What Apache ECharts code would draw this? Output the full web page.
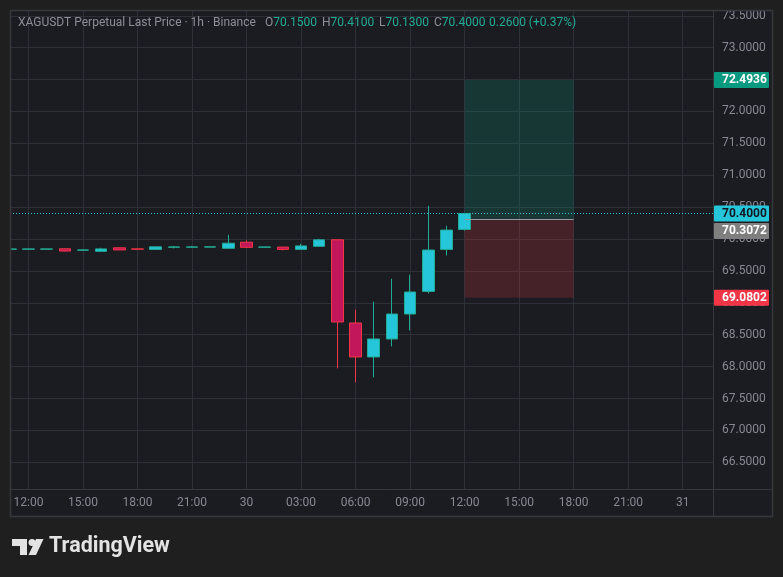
<!DOCTYPE html>
<html><head><meta charset="utf-8">
<script src="https://cdn.jsdelivr.net/npm/echarts@6/dist/echarts.min.js"></script>
<style>html,body{margin:0;padding:0;background:#1f1f1f;}#c{width:783px;height:577px;}</style>
</head><body><div id="c"></div>
<script>
// hours relative to 29th 12:00
const hours  = [-1,0,1,2,3,4,5,6,7,8,9,10,11,12,13,14,15,16,17,18,19,20,21,22,23,24];
const opens  = [69.840,69.841,69.842,69.848,69.826,69.808,69.863,69.846,69.838,69.872,69.873,69.874,69.855,69.951,69.872,69.874,69.838,69.886,69.989,68.684,68.152,68.434,68.825,69.179,69.837,70.150];
const closes = [69.845,69.845,69.845,69.812,69.830,69.846,69.830,69.842,69.878,69.877,69.877,69.878,69.935,69.870,69.876,69.838,69.893,69.988,68.700,68.152,68.434,68.825,69.170,69.828,70.141,70.400];
const lows   = [69.838,69.838,69.840,69.808,69.825,69.806,69.828,69.840,69.837,69.853,69.872,69.872,69.853,69.868,69.870,69.821,69.836,69.884,67.973,67.754,67.832,68.318,68.568,69.148,69.743,70.130];
const highs  = [69.848,69.848,69.847,69.850,69.843,69.864,69.866,69.848,69.880,69.893,69.893,69.880,70.068,69.980,69.878,69.876,69.926,70.005,69.992,68.893,69.018,69.378,69.441,70.522,70.208,70.410];

const xTickHours  = [0,3,6,9,12,15,18,21,24,27,30,33,36];
const xTickLabels = ['12:00','15:00','18:00','21:00','30','03:00','06:00','09:00','12:00','15:00','18:00','21:00','31'];
const yTicks = [66.5,67.0,67.5,68.0,68.5,69.0,69.5,70.0,70.5,71.0,71.5,72.0,72.5,73.0,73.5];

const lastPrice = 70.40;
const targetPrice = 72.4936;
const entryPrice = 70.3072;
const stopPrice = 69.0802;
const positionHours = [24, 30];

const headerTitle = 'XAGUSDT Perpetual Last Price · 1h · Binance';
const headerO = '70.1500', headerH = '70.4100', headerL = '70.1300', headerC = '70.4000';
const headerChange = '0.2600 (+0.37%)';

const FONT = 'Roboto, sans-serif';
const GRID = '#2e3039';
const FRAME = '#36383e';
const AXTXT = '#868993';
const UP = '#22ab94', DOWN = '#f23645';

const candleData = hours.map((h,i)=>[h, opens[i], closes[i], lows[i], highs[i]]);

const chart = echarts.init(document.getElementById('c'), null, {renderer:'canvas'});
const hdr = (x, k, v) => ({type:'text', z:60, x:x, y:23, style:{rich:{a:{fill:'#8c8f98', font:'12px '+FONT}, b:{fill:UP, font:'12px '+FONT}}, text:'{a|'+k+'}{b|'+v+'}', verticalAlign:'middle'}});
const opt = {
  backgroundColor: '#1b1c21',
  animation: false,
  grid: {left:10, top:10, right:70, bottom:87.5, containLabel:false},
  xAxis: {
    type:'value', min:-1.018, max:37.67,
    axisLine:{show:false}, axisTick:{show:false, customValues:xTickHours},
    axisLabel:{customValues:xTickHours, color:AXTXT, fontFamily:FONT, fontSize:12, margin:7,
      formatter:(v)=>{const k=xTickHours.indexOf(Math.round(v)); return k>=0?xTickLabels[k]:'';}},
    splitLine:{show:true, lineStyle:{color:GRID, width:1}}
  },
  yAxis: {
    type:'value', position:'right', min:66.074, max:73.591, scale:true,
    axisLine:{show:false}, axisTick:{show:false, customValues:yTicks},
    axisLabel:{customValues:yTicks, color:AXTXT, fontFamily:FONT, fontSize:12, margin:9,
      formatter:(v)=>v.toFixed(4)},
    splitLine:{show:true, lineStyle:{color:GRID, width:1}}
  },
  series: [
    {
      type:'line', data:[], silent:true,
      markArea:{silent:true, itemStyle:{color:'rgba(8,153,129,0.22)'}, data:[
        [{coord:[positionHours[0], entryPrice], itemStyle:{color:'rgba(8,153,129,0.22)'}},{coord:[positionHours[1], targetPrice]}],
        [{coord:[positionHours[0], stopPrice], itemStyle:{color:'rgba(242,54,69,0.2)'}},{coord:[positionHours[1], entryPrice]}]
      ]},
      markLine:{silent:true, symbol:'none', label:{show:false}, data:[
        [{coord:[positionHours[0], entryPrice], lineStyle:{color:'#9598a1', width:1, type:'solid'}},{coord:[positionHours[1], entryPrice]}]
      ]}
    },
    {
      type:'candlestick', data:candleData, encode:{x:0, y:[1,2,3,4]},
      barWidth:12, clip:true,
      itemStyle:{color:'#26c6da', color0:'#c2185b', borderColor:UP, borderColor0:DOWN, borderWidth:1},
      markLine:{silent:true, symbol:'none', label:{show:false},
        lineStyle:{color:'#26c6da', width:1, type:[1,2]},
        data:[{yAxis:lastPrice}]}
    }
  ],
  graphic: [
    // outer margins
    {type:'rect', zlevel:1, shape:{x:0,y:0,width:783,height:10}, style:{fill:'#1f1f1f'}, silent:true},
    {type:'rect', zlevel:1, shape:{x:0,y:0,width:10,height:577}, style:{fill:'#1f1f1f'}, silent:true},
    {type:'rect', zlevel:1, shape:{x:773,y:0,width:10,height:577}, style:{fill:'#1f1f1f'}, silent:true},
    {type:'rect', zlevel:1, shape:{x:0,y:517,width:783,height:60}, style:{fill:'#1f1f1f'}, silent:true},
    // frame
    {type:'rect', zlevel:1, z:50, shape:{x:10.5,y:10.5,width:762,height:506}, style:{fill:null, stroke:FRAME, lineWidth:1.5}, silent:true},
    {type:'line', zlevel:1, z:50, shape:{x1:10,y1:489.5,x2:773,y2:489.5}, style:{stroke:FRAME, lineWidth:1}, silent:true},
    {type:'line', zlevel:1, z:50, shape:{x1:713.5,y1:10,x2:713.5,y2:517}, style:{stroke:FRAME, lineWidth:1}, silent:true},
    // header
    {type:'text', z:60, x:18, y:23, style:{text:headerTitle, fill:'#8c8f98', font:'12px '+FONT, verticalAlign:'middle'}},
    hdr(265,'O',headerO), hdr(322,'H',headerH), hdr(379,'L',headerL), hdr(434,'C',headerC),
    {type:'text', z:60, x:489, y:23, style:{text:headerChange, fill:UP, font:'12px '+FONT, verticalAlign:'middle'}},
    // logo
    {type:'rect', zlevel:1, shape:{x:12,y:539,width:15,height:7}, style:{fill:'#e3e3e3'}},
    {type:'rect', zlevel:1, shape:{x:20,y:539,width:7,height:16}, style:{fill:'#e3e3e3'}},
    {type:'circle', zlevel:1, shape:{cx:32,cy:542.5,r:3.5}, style:{fill:'#e3e3e3'}},
    {type:'polygon', zlevel:1, shape:{points:[[36,539],[43.5,539],[36,555],[28.5,555]]}, style:{fill:'#e3e3e3'}},
    {type:'text', zlevel:1, x:49, y:547, style:{text:'TradingView', fill:'#e3e3e3', font:'bold 21.5px '+FONT, verticalAlign:'middle'}}
  ]
};
chart.setOption(opt);

function badge(id, value, yPix, bg, fg){
  return {type:'group', id:id, zlevel:1, z:70, children:[
    {type:'rect', zlevel:1, shape:{x:714, y:yPix-8, width:55, height:16, r:1}, style:{fill:bg}},
    {type:'text', zlevel:1, x:722, y:yPix, style:{text:value.toFixed(4), fill:fg, font:'bold 12px '+FONT, verticalAlign:'middle'}}
  ]};
}
const py = v => chart.convertToPixel({yAxisIndex:0}, v);
const yLast = py(lastPrice);
const yEntry = Math.max(py(entryPrice), yLast + 17.5);
chart.setOption({graphic: opt.graphic.concat([
  badge('bT', targetPrice, py(targetPrice), '#089981', '#ffffff'),
  badge('bL', lastPrice, yLast, '#26c6da', '#131722'),
  badge('bE', entryPrice, yEntry, '#7f7f7f', '#ffffff'),
  badge('bS', stopPrice, py(stopPrice), '#f23645', '#ffffff')
])});
</script></body></html>
